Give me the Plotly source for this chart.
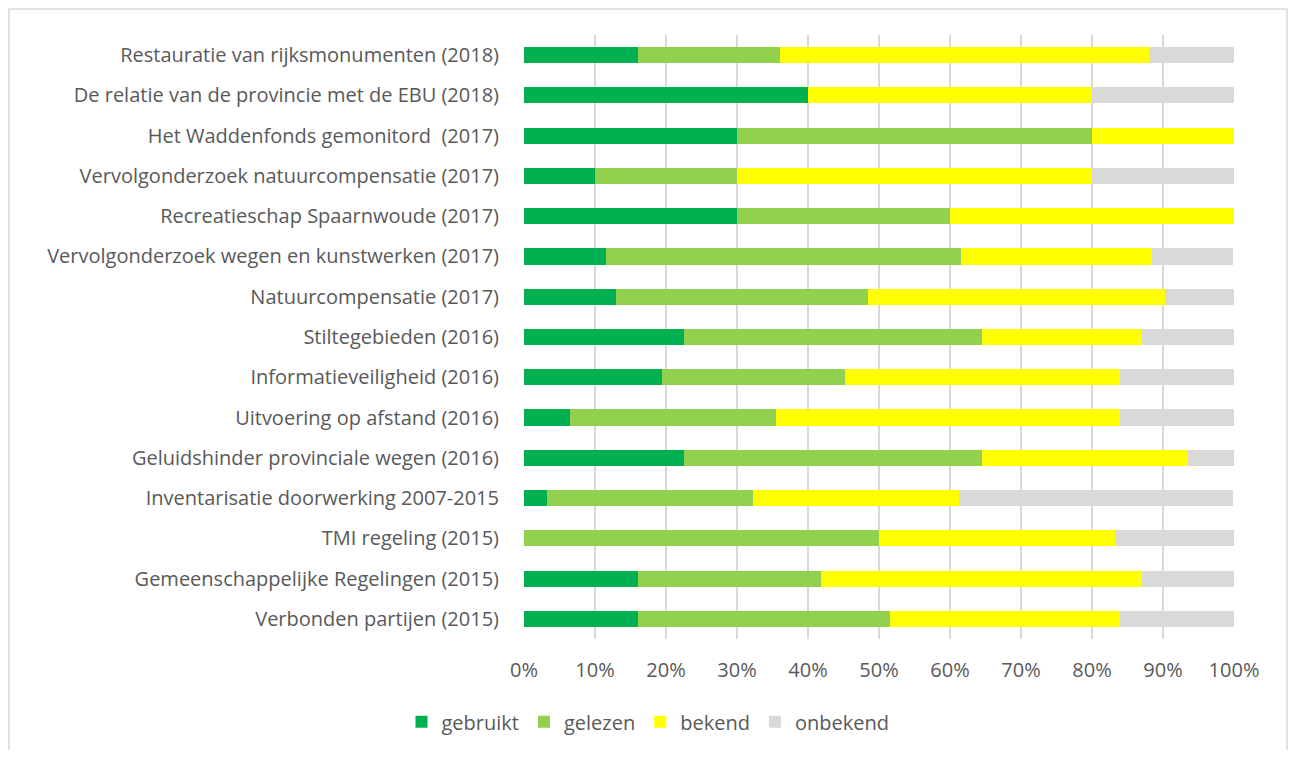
import plotly.graph_objects as go

# Onderzoeken (van boven naar beneden)
onderzoeken = [
    "Restauratie van rijksmonumenten (2018)",
    "De relatie van de provincie met de EBU (2018)",
    "Het Waddenfonds gemonitord  (2017)",
    "Vervolgonderzoek natuurcompensatie (2017)",
    "Recreatieschap Spaarnwoude (2017)",
    "Vervolgonderzoek wegen en kunstwerken (2017)",
    "Natuurcompensatie (2017)",
    "Stiltegebieden (2016)",
    "Informatieveiligheid (2016)",
    "Uitvoering op afstand (2016)",
    "Geluidshinder provinciale wegen (2016)",
    "Inventarisatie doorwerking 2007-2015",
    "TMI regeling (2015)",
    "Gemeenschappelijke Regelingen (2015)",
    "Verbonden partijen (2015)",
]

# Aandelen in procenten
gebruikt = [16, 40, 30, 10, 30, 11.5, 12.9, 22.6, 19.4, 6.5, 22.6, 3.2, 0, 16.1, 16.1]
gelezen = [20, 0, 50, 20, 30, 50, 35.5, 41.9, 25.8, 29.0, 41.9, 29.0, 50, 25.8, 35.5]
bekend = [52, 40, 20, 50, 40, 26.9, 41.9, 22.6, 38.7, 48.4, 29.0, 29.0, 33.3, 45.2, 32.3]
onbekend = [12, 20, 0, 20, 0, 11.5, 9.7, 12.9, 16.1, 16.1, 6.5, 38.7, 16.7, 12.9, 16.1]

reeksen = [
    ("gebruikt", gebruikt, "#00B050"),
    ("gelezen", gelezen, "#92D050"),
    ("bekend", bekend, "#FFFF00"),
    ("onbekend", onbekend, "#D9D9D9"),
]

TEKST = "#595959"
FONT = "'Open Sans', Lato, sans-serif"

fig = go.Figure()
for naam, waarden, kleur in reeksen:
    fig.add_trace(go.Bar(
        y=onderzoeken,
        x=waarden,
        orientation="h",
        name=naam,
        marker=dict(color=kleur, line=dict(width=0)),
        width=0.4,
    ))

# de pagina heeft 8px body-marge, dus figuur iets kleiner
fig.update_layout(
    barmode="stack",
    width=1280,
    height=742,
    margin=dict(l=516, r=54, t=27, b=111),
    paper_bgcolor="white",
    plot_bgcolor="white",
    font=dict(family=FONT, size=20, color=TEKST),
    legend=dict(
        orientation="h",
        xref="container", yref="container",
        x=0.5, xanchor="center",
        y=0.038, yanchor="middle",
        font=dict(size=20, color=TEKST),
        itemwidth=30,
        traceorder="normal",
    ),
    # kader rond de grafiek (onderkant valt buiten beeld)
    shapes=[dict(
        type="rect", xref="paper", yref="paper",
        x0=-0.7254, x1=1.0746, y0=-0.25, y1=1.0430,
        line=dict(color="#D9D9D9", width=1.5),
        fillcolor="rgba(0,0,0,0)", layer="below",
    )],
)

fig.update_xaxes(
    range=[0, 100],
    tickvals=list(range(0, 101, 10)),
    ticktext=[f"{v}%" for v in range(0, 101, 10)],
    showgrid=True, gridcolor="#D9D9D9", gridwidth=1.5,
    zeroline=False, showline=False,
    ticklabelstandoff=17,
    tickfont=dict(size=20, color=TEKST),
)
fig.update_yaxes(
    autorange="reversed",
    showgrid=False, showline=False,
    ticklabelstandoff=24,
    tickfont=dict(size=20, color=TEKST),
)

fig.write_html("out.html")
